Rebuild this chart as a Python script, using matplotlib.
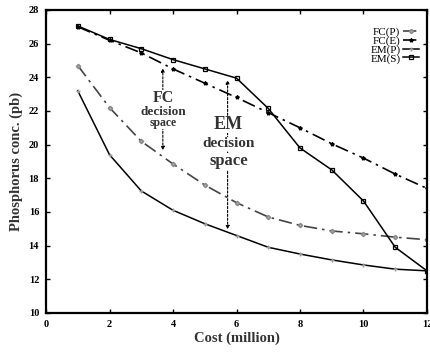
import matplotlib.pyplot as plt

cost = [1, 2, 3, 4, 5, 6, 7, 8, 9, 10, 11, 12]
fc_p = [24.7, 22.2, 20.2, 18.85, 17.6, 16.55, 15.7, 15.2, 14.87, 14.7, 14.5, 14.35]
fc_e = [27.0, 26.2, 25.45, 24.5, 23.65, 22.8, 21.9, 21.0, 20.05, 19.2, 18.25, 17.4]
em_p = [23.2, 19.4, 17.25, 16.1, 15.3, 14.6, 13.9, 13.5, 13.15, 12.85, 12.6, 12.5]
em_s = [27.05, 26.25, 25.7, 25.05, 24.5, 23.95, 22.15, 19.8, 18.5, 16.65, 13.9, 12.5]

plt.rcParams['font.family'] = 'Liberation Serif'
fig = plt.figure(figsize=(4.3, 3.56), dpi=100)
ax = fig.add_axes([0.107, 0.121, 0.886, 0.851])

ax.plot(cost, fc_p, color='#444444', lw=1.2, dashes=(8, 3, 1.5, 3),
        marker='D', ms=2.2, mfc='#aaaaaa', mec='#888888', label='FC(P)')
ax.plot(cost, fc_e, color='black', lw=1.2, dashes=(8, 3, 1.5, 3),
        marker='*', ms=2.8, label='FC(E)')
ax.plot(cost, em_p, color='black', lw=1.1,
        marker='+', ms=3, mec='#999999', label='EM(P)')
ax.plot(cost, em_s, color='black', lw=1.1,
        marker='s', ms=3.5, mfc='none', mec='black', mew=0.9, label='EM(S)')

# decision space arrows
arrow = dict(arrowstyle='<|-|>', linestyle=(0, (2, 1.5)), color='black', lw=0.8,
             mutation_scale=5)
ax.annotate('', xy=(3.68, 24.7), xytext=(3.68, 19.5), arrowprops=arrow)
ax.annotate('', xy=(5.72, 24.0), xytext=(5.72, 14.8), arrowprops=arrow)

bg = dict(facecolor='white', edgecolor='none', pad=0.3)
ax.text(3.7, 22.75, 'FC', ha='center', va='center', fontsize=11.5, fontweight='bold', color='#333333', bbox=bg)
ax.text(3.7, 21.95, 'decision', ha='center', va='center', fontsize=9.5, fontweight='bold', color='#333333', bbox=bg)
ax.text(3.7, 21.3, 'space', ha='center', va='center', fontsize=8.5, fontweight='bold', color='#333333', bbox=bg)
ax.text(5.75, 21.2, 'EM', ha='center', va='center', fontsize=13, fontweight='bold', color='#333333', bbox=bg)
ax.text(5.75, 20.05, 'decision', ha='center', va='center', fontsize=11, fontweight='bold', color='#333333', bbox=bg)
ax.text(5.75, 19.0, 'space', ha='center', va='center', fontsize=12, fontweight='bold', color='#333333', bbox=bg)

ax.set_xlim(0, 12)
ax.set_ylim(10, 28)
ax.set_xticks(range(0, 13, 2))
ax.set_yticks(range(10, 29, 2))
ax.tick_params(direction='in', top=True, right=True, length=3, width=1, labelsize=7.5, pad=5)
for lbl in ax.get_xticklabels() + ax.get_yticklabels():
    lbl.set_fontweight('bold')
for s in ax.spines.values():
    s.set_linewidth(1.6)

ax.set_xlabel('Cost (million)', fontsize=10.5, fontweight='bold', color='#333333', labelpad=2)
ax.set_ylabel('Phosphorus conc. (pb)', fontsize=10.5, fontweight='bold', color='#333333', labelpad=4)

ax.legend(loc='upper right', frameon=False, markerfirst=False, fontsize=8,
          handlelength=1.5, handletextpad=0.2, labelspacing=-0.1,
          borderaxespad=0.3, bbox_to_anchor=(1.0, 0.97))

fig.savefig('out.png', dpi=100)
